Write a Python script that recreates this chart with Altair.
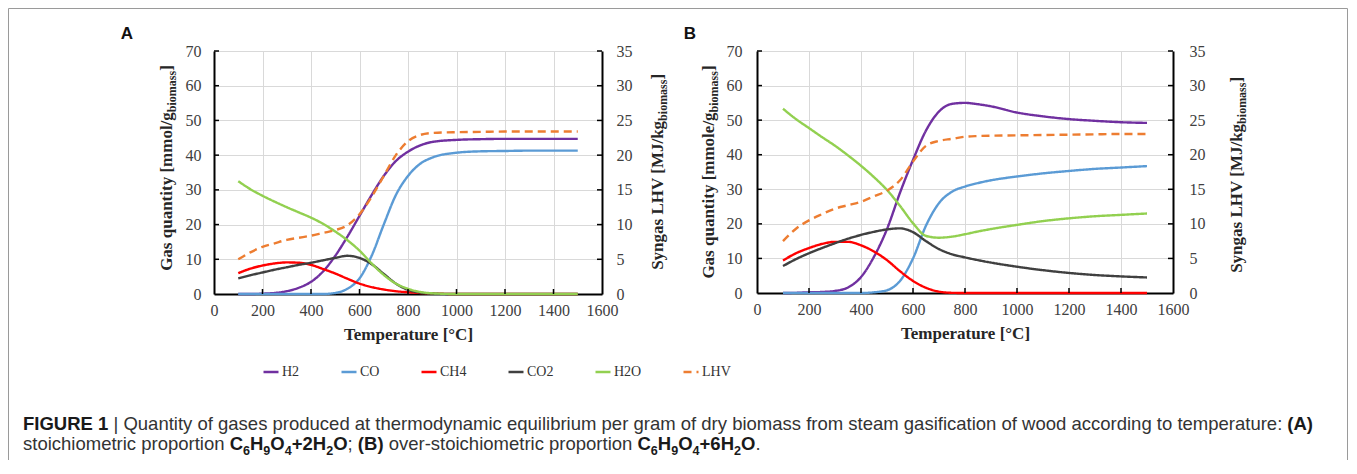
import altair as alt
import pandas as pd

# ---------------- data ----------------
T = [100, 150, 200, 250, 300, 350, 400, 450, 500, 550, 600, 650, 700, 750, 800,
     850, 900, 1000, 1100, 1200, 1300, 1400, 1500]

A_H2 = [0, 0, 0.1, 0.3, 0.8, 1.8, 3.5, 6.5, 11.0, 16.5, 22.5, 28.5, 34.0, 38.3, 41.0,
        42.8, 43.8, 44.4, 44.6, 44.7, 44.7, 44.7, 44.7]
A_CO = [0, 0, 0, 0, 0, 0, 0, 0, 0.3, 1.5, 4.5, 11.0, 20.0, 28.5, 34.0,
        37.5, 39.3, 40.7, 41.1, 41.2, 41.3, 41.3, 41.3]
A_CH4 = [6.0, 7.3, 8.2, 8.8, 9.1, 9.0, 8.4, 7.2, 5.9, 4.4, 3.0, 2.0, 1.3, 0.8, 0.5,
         0.3, 0.15, 0, 0, 0, 0, 0, 0]
A_CO2 = [4.5, 5.4, 6.2, 7.0, 7.7, 8.4, 9.0, 9.7, 10.4, 11.0, 10.4, 8.6, 5.8, 3.0, 1.2,
         0.4, 0.1, 0, 0, 0, 0, 0, 0]
A_H2O = [32.5, 30.2, 28.3, 26.6, 25.0, 23.5, 22.0, 20.2, 18.0, 15.5, 12.5, 8.8, 5.5, 3.0, 1.5,
         0.6, 0.2, 0, 0, 0, 0, 0, 0]
A_LHV = [5.0, 6.0, 6.8, 7.3, 7.8, 8.1, 8.4, 8.8, 9.2, 9.9, 11.5, 14.0, 17.0, 20.0, 22.0,
         22.9, 23.2, 23.3, 23.35, 23.4, 23.4, 23.4, 23.4]

B_H2 = [0, 0.05, 0.2, 0.3, 0.6, 1.6, 4.6, 10.5, 18.5, 29.0, 38.5, 47.0, 52.5, 54.7, 55.0,
        54.6, 54.0, 52.2, 51.1, 50.3, 49.8, 49.4, 49.2]
B_CO = [0, 0, 0, 0, 0, 0, 0, 0.2, 0.8, 3.5, 10.0, 19.5, 26.0, 29.3, 30.8,
        31.8, 32.6, 33.7, 34.6, 35.3, 35.9, 36.3, 36.7]
B_CH4 = [9.4, 11.5, 13.0, 14.2, 14.8, 14.8, 13.8, 12.0, 9.5, 6.3, 3.5, 1.5, 0.4, 0.05, 0,
         0, 0, 0, 0, 0, 0, 0, 0]
B_CO2 = [7.8, 9.8, 11.5, 13.0, 14.4, 15.7, 16.8, 17.7, 18.4, 18.7, 17.6, 15.0, 12.7, 11.2, 10.3,
         9.5, 8.8, 7.6, 6.6, 5.8, 5.2, 4.8, 4.5]
B_H2O = [53.3, 50.3, 47.7, 45.1, 42.6, 39.8, 36.8, 33.5, 29.8, 25.2, 20.2, 16.5, 16.0, 16.3, 17.0,
         17.8, 18.5, 19.7, 20.8, 21.6, 22.2, 22.6, 23.0]
B_LHV = [7.5, 9.3, 10.5, 11.4, 12.2, 12.7, 13.2, 14.0, 14.8, 16.3, 19.0, 21.3, 22.0, 22.3, 22.6,
         22.7, 22.75, 22.8, 22.85, 22.9, 22.95, 23.0, 23.0]

SERIES = ["H2", "CO", "CH4", "CO2", "H2O", "LHV"]
COLORS = ["#7030A0", "#5B9BD5", "#FF0000", "#404040", "#92D050", "#ED7D31"]
DASHES = [[1, 0], [1, 0], [1, 0], [1, 0], [1, 0], [8, 5]]
X_TICKS = [0, 200, 400, 600, 800, 1000, 1200, 1400, 1600]
GAS_TICKS = [0, 10, 20, 30, 40, 50, 60, 70]
LHV_TICKS = [0, 5, 10, 15, 20, 25, 30, 35]

CAPTION_1 = [("FIGURE 1", "b"),
             (" | Quantity of gases produced at thermodynamic equilibrium per gram of dry biomass "
              "from steam gasification of wood according to temperature: ", "r"),
             ("(A)", "b")]
CAPTION_2 = [("stoichiometric proportion ", "r"),
             ("C", "b"), ("6", "s"), ("H", "b"), ("9", "s"), ("O", "b"), ("4", "s"),
             ("+2H", "b"), ("2", "s"), ("O", "b"), ("; ", "r"), ("(B)", "b"),
             (" over-stoichiometric proportion ", "r"),
             ("C", "b"), ("6", "s"), ("H", "b"), ("9", "s"), ("O", "b"), ("4", "s"),
             ("+6H", "b"), ("2", "s"), ("O", "b"), (".", "r")]

# ---------------- styling ----------------
SERIF = "Liberation Serif"
SANS = "Liberation Sans"
INK = "#262626"
GRID = "#D9D9D9"
LABEL_SIZE = 16

# advance widths (per 1000 em) - Liberation fonts are metric compatible with Arial / Times
SANS_R = {' ': 278, '|': 260, ':': 278, '-': 333, ';': 278, '.': 278, 'Q': 778,
          'a': 556, 'b': 556, 'c': 500, 'd': 556, 'e': 556, 'f': 278, 'g': 556, 'h': 556,
          'i': 222, 'l': 222, 'm': 833, 'n': 556, 'o': 556, 'p': 556, 'q': 556, 'r': 333,
          's': 500, 't': 278, 'u': 556, 'v': 500, 'w': 722, 'y': 500}
SANS_B = {' ': 278, 'F': 611, 'I': 278, 'G': 778, 'U': 722, 'R': 722, 'E': 667,
          '(': 333, ')': 333, 'A': 722, 'B': 722, 'C': 722, 'H': 722, 'O': 778, '+': 584}
SERIF_B = {' ': 250, '[': 333, ']': 333, '/': 278, 'G': 778, 'S': 556, 'L': 667, 'H': 778,
           'V': 722, 'M': 944, 'J': 500, 'a': 500, 'b': 556, 'e': 444, 'g': 500, 'i': 278,
           'k': 556, 'l': 278, 'm': 833, 'n': 556, 'o': 500, 'q': 556, 's': 389, 't': 333,
           'u': 556, 'y': 500}


def tw(s, table, size):
    return sum(table.get(c, 556) for c in s) / 1000.0 * size


def text(s, x, y, size, font, weight="normal", color=INK, angle=0, align="left",
         baseline="alphabetic"):
    return alt.Chart(pd.DataFrame({"t": [s]})).mark_text(
        font=font, fontSize=size, fontWeight=weight, color=color, angle=angle,
        align=align, baseline=baseline
    ).encode(text="t:N", x=alt.value(x), y=alt.value(y))


def vtitle(main, sub, close, xb, yc, fs=17, sfs=12):
    wm = tw(main, SERIF_B, fs)
    ws = tw(sub, SERIF_B, sfs)
    wc = tw(close, SERIF_B, fs)
    bottom = yc + (wm + ws + wc) / 2.0
    p = bottom - wm
    return [
        text(main, xb, p, fs, SERIF, "bold", angle=270, align="right"),
        text(sub, xb + 4, p, sfs, SERIF, "bold", angle=270, align="left"),
        text(close, xb, p - ws, fs, SERIF, "bold", angle=270, align="left"),
    ]


def caption_line(segs, x0, y, fs):
    out = []
    x = x0
    for s, kind in segs:
        if kind == "r":
            table, size, weight, dy, col = SANS_R, fs, "normal", 0, "#333333"
        elif kind == "b":
            table, size, weight, dy, col = SANS_B, fs, "bold", 0, "#1a1a1a"
        else:
            table, size, weight, dy, col = SANS_B, fs * 0.68, "bold", fs * 0.28, "#1a1a1a"
        lead = len(s) - len(s.lstrip(" "))
        w_lead = tw(s[:lead], table, size)
        out.append(text(s.strip(" "), x + w_lead, y + dy, size, SANS, weight, col))
        x += tw(s, table, size)
    return out


LEG = alt.Legend(title=None, orient="none", legendX=48, legendY=312, direction="horizontal",
                 columns=6, symbolType="stroke", symbolSize=225, symbolStrokeWidth=2.5,
                 labelFont=SERIF, labelFontSize=14, labelColor="#333333", columnPadding=36,
                 labelOffset=2, padding=0)
COLOR = alt.Color("series:N", scale=alt.Scale(domain=SERIES, range=COLORS), legend=LEG)
DASH = alt.StrokeDash("series:N", scale=alt.Scale(domain=SERIES, range=DASHES), legend=LEG)


def gas_frame(cols):
    rows = []
    for name, arr in zip(SERIES[:5], cols):
        for t, v in zip(T, arr):
            rows.append({"T": t, "v": v, "series": name})
    return pd.DataFrame(rows)


def lhv_frame(arr):
    return pd.DataFrame({"T": T, "v": arr, "series": ["LHV"] * len(T)})


def panel(gas_cols, lhv_vals, w, h, lpad_l, lpad_r, extra):
    xdef = alt.X("T:Q", scale=alt.Scale(domain=[0, 1600], nice=False, zero=False),
                 axis=alt.Axis(values=X_TICKS, format="d", labelOverlap=False, labelFlush=False,
                               title="Temperature [°C]", grid=True,
                               gridColor=GRID, gridWidth=1, ticks=False, domainColor="black",
                               domainWidth=2, labelFont=SERIF, labelFontSize=LABEL_SIZE,
                               labelColor="#404040", labelPadding=8, titleFont=SERIF,
                               titleFontSize=17, titleFontWeight="bold", titleColor=INK,
                               titlePadding=8))
    ygas = alt.Scale(domain=[0, 70], nice=False)
    ylhv = alt.Scale(domain=[0, 35], nice=False)
    gas = alt.Chart(gas_frame(gas_cols)).mark_line(strokeWidth=2.4, interpolate="monotone").encode(
        x=xdef,
        y=alt.Y("v:Q", scale=ygas,
                axis=alt.Axis(orient="left", values=GAS_TICKS, format="d", labelOverlap=False,
                              labelFlush=False, title=None, grid=True,
                              gridColor=GRID, gridWidth=1, ticks=False, domainColor="black",
                              domainWidth=2, labelFont=SERIF, labelFontSize=LABEL_SIZE,
                              labelColor="#404040", labelPadding=lpad_l)),
        color=COLOR, strokeDash=DASH)
    lhv = alt.Chart(lhv_frame(lhv_vals)).mark_line(strokeWidth=2.4, interpolate="monotone").encode(
        x=xdef,
        y=alt.Y("v:Q", scale=ylhv,
                axis=alt.Axis(orient="right", values=LHV_TICKS, format="d", labelOverlap=False,
                              labelFlush=False, title=None, grid=False,
                              ticks=False, domainColor="black", domainWidth=2,
                              labelFont=SERIF, labelFontSize=LABEL_SIZE, labelColor="#404040",
                              labelPadding=lpad_r)),
        color=COLOR, strokeDash=DASH)
    tx = alt.Chart(pd.DataFrame({"T": X_TICKS[1:-1]})).mark_rule(color="black", strokeWidth=1.5).encode(
        x=xdef, y=alt.value(h), y2=alt.value(h - 5))
    tyl = alt.Chart(pd.DataFrame({"v": GAS_TICKS[1:]})).mark_rule(color="black", strokeWidth=1.5).encode(
        y=alt.Y("v:Q", scale=ygas, axis=None), x=alt.value(0), x2=alt.value(5))
    tyr = alt.Chart(pd.DataFrame({"v": LHV_TICKS[1:]})).mark_rule(color="black", strokeWidth=1.5).encode(
        y=alt.Y("v:Q", scale=ylhv, axis=None), x=alt.value(w), x2=alt.value(w - 5))
    return alt.layer(gas, lhv, tx, tyl, tyr, *extra).resolve_scale(y="independent").properties(
        width=w, height=h)


WA, HA = 388, 243
WB, HB = 416, 242
FRAME = "#9a9a9a"

extra_a = []
extra_a += vtitle("Gas quantity [mmol/g", "biomass", "]", -42, 117)
extra_a += vtitle("Syngas LHV [MJ/kg", "biomass", "]", 449, 121)
extra_a.append(text("A", -87, -12, 17, SANS, "bold", "#111111", align="center"))
extra_a += caption_line(CAPTION_1, -191, 379, 18.5)
extra_a += caption_line(CAPTION_2, -191, 399, 18.5)
extra_a.append(alt.Chart(pd.DataFrame({"k": [0]})).mark_rule(color=FRAME, strokeWidth=1).encode(
    x=alt.value(-205.5), y=alt.value(-42.5), y2=alt.value(409)))
extra_a.append(alt.Chart(pd.DataFrame({"k": [0]})).mark_rule(color=FRAME, strokeWidth=1).encode(
    x=alt.value(1133.5), y=alt.value(-42.5), y2=alt.value(409)))
extra_a.append(alt.Chart(pd.DataFrame({"k": [0]})).mark_rule(color=FRAME, strokeWidth=1).encode(
    x=alt.value(-205.5), x2=alt.value(1133.5), y=alt.value(-42.5)))

extra_b = []
extra_b += vtitle("Gas quantity [mmole/g", "biomass", "]", -43, 121)
extra_b += vtitle("Syngas LHV [MJ/kg", "biomass", "]", 485, 124)
extra_b.append(text("B", -67, -12, 17, SANS, "bold", "#111111", align="center"))

pa = panel([A_H2, A_CO, A_CH4, A_CO2, A_H2O], A_LHV, WA, HA, 13, 14, extra_a)
pb = panel([B_H2, B_CO, B_CH4, B_CO2, B_H2O], B_LHV, WB, HB, 15, 16, extra_b)

chart = alt.hconcat(pa, pb, spacing=155, bounds="flush").properties(
    padding=0, background="white"
).configure_view(stroke=None)

chart.save("out.html", embed_options={"renderer": "svg", "actions": False})
